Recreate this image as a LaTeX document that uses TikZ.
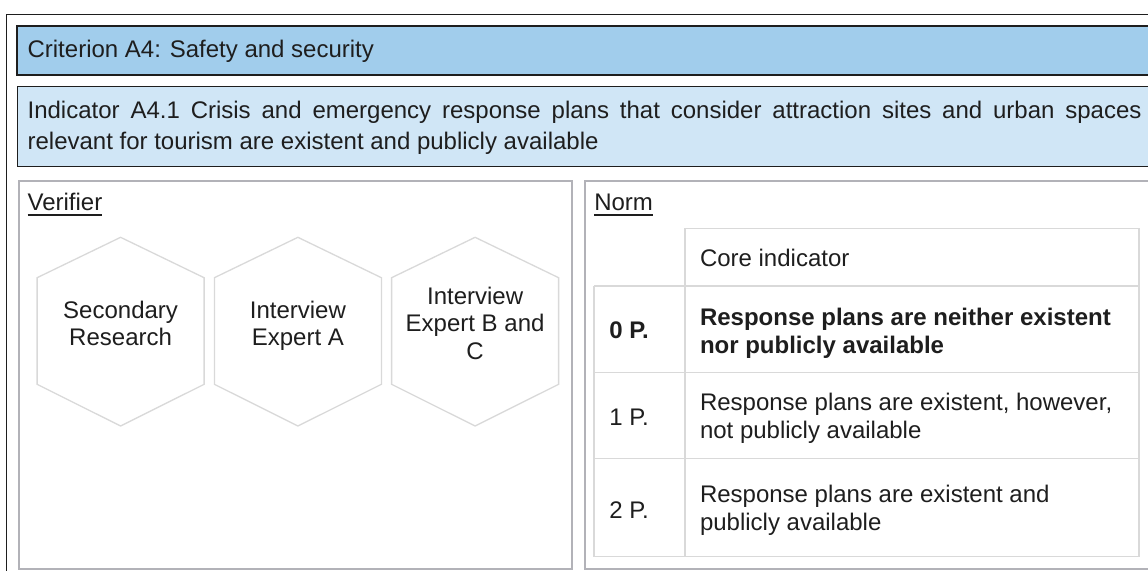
\documentclass[tikz,border=0pt]{standalone}
\usepackage{fontspec}
\setmainfont{Liberation Sans}
\definecolor{critblue}{RGB}{161,205,236}
\definecolor{indblue}{RGB}{208,230,246}
\definecolor{framedark}{RGB}{30,30,30}
\definecolor{panelgray}{RGB}{178,178,184}
\definecolor{linegray}{RGB}{217,217,217}
\definecolor{txt}{RGB}{30,30,30}
\newcommand\mlines[2]{\begin{tabular}[t]{@{}#1@{}}#2\end{tabular}}
\tikzset{
  lbl/.style={inner sep=0pt, outer sep=0pt, text=txt, font=\fontsize{12}{14}\selectfont},
  hexlbl/.style={lbl, font=\fontsize{12}{13.65}\selectfont},
  tablbl/.style={lbl, font=\fontsize{12}{14.2}\selectfont},
  hexline/.style={draw=linegray, line width=0.65pt},
  tabline/.style={draw=linegray, line width=0.7pt},
  panel/.style={draw=panelgray, line width=1pt},
}
\begin{document}
\begin{tikzpicture}[x=0.5pt,y=-0.5pt]
\useasboundingbox (0,0) rectangle (1148,570);
\clip (0,0) rectangle (1148,570);
\fill[white] (0,0) rectangle (1148,570);
% outer frame
\draw[framedark, line width=0.65pt] (6.5,14.5) rectangle (1200,620);
% criterion bar
\draw[fill=critblue, draw=framedark, line width=0.85pt] (17,26) rectangle (1200,75);
\node[lbl, anchor=base west] (crit) at (27.6,57.5) {Criterion A4: Safety and security};
% indicator bar
\draw[fill=indblue, draw=framedark, line width=0.5pt] (17,86.7) rectangle (1200,166.8);
\node[lbl, anchor=base west] (ind1) at (27.6,118.5) {\hbox to 557pt{Indicator A4.1 Crisis and emergency response plans that consider attraction sites and urban spaces}};
\node[lbl, anchor=base west] (ind2) at (27.6,149.5) {relevant for tourism are existent and publicly available};
% panels
\draw[panel] (18.5,180.5) rectangle (572,568.5);
\draw[panel] (584.5,180.5) rectangle (1200,568.5);
\node[lbl, anchor=base west] (ver) at (27.6,210.7) {Verifier};
\draw[txt, line width=0.65pt] ([yshift=-2.2pt]ver.base west) -- ([yshift=-2.2pt]ver.base east);
\node[lbl, anchor=base west] (norm) at (594.3,210.7) {Norm};
\draw[txt, line width=0.65pt] ([yshift=-2.2pt]norm.base west) -- ([yshift=-2.2pt]norm.base east);
% hexagons
\foreach \cx in {120.6,297.9,475.1}{
  \draw[hexline] (\cx,237.3) -- (\cx+83.5,277.7) -- (\cx+83.5,384.3) -- (\cx,426) -- (\cx-83.5,384.3) -- (\cx-83.5,277.7) -- cycle;
}
\node[hexlbl, anchor=base] (h1) at (120.6,318.5) {\mlines{c}{Secondary\\Research}};
\node[hexlbl, anchor=base] (h2) at (297.9,318.5) {\mlines{c}{Interview\\Expert A}};
\node[hexlbl, anchor=base] (h3) at (475.1,304.6) {\mlines{c}{Interview\\Expert B and\\C}};
% table
\draw[tabline] (685,228.3) -- (1139,228.3);
\draw[tabline] (594,286) -- (1139,286);
\draw[tabline] (594,372.5) -- (1139,372.5);
\draw[tabline] (594,458.3) -- (1139,458.3);
\draw[tabline] (594,556.7) -- (1139,556.7);
\draw[tabline] (594,286) -- (594,556.7);
\draw[tabline] (685,228.3) -- (685,556.7);
\draw[tabline, line width=1pt] (1139,228.3) -- (1139,556.7);
\node[tablbl, anchor=base west] (core) at (700,266.8) {Core indicator};
\node[tablbl, anchor=base west] (p0) at (609.3,338.3) {\bfseries 0 P.};
\node[tablbl, anchor=base west] (t0) at (700,325) {\bfseries\mlines{l}{Response plans are neither existent\\nor publicly available}};
\node[tablbl, anchor=base west] (p1) at (609.3,425) {1 P.};
\node[tablbl, anchor=base west] (t1) at (700,410.3) {\mlines{l}{Response plans are existent, however,\\not publicly available}};
\node[tablbl, anchor=base west] (p2) at (609.3,518.6) {2 P.};
\node[tablbl, anchor=base west] (t2) at (700,502) {\mlines{l}{Response plans are existent and\\publicly available}};
\end{tikzpicture}
\end{document}
